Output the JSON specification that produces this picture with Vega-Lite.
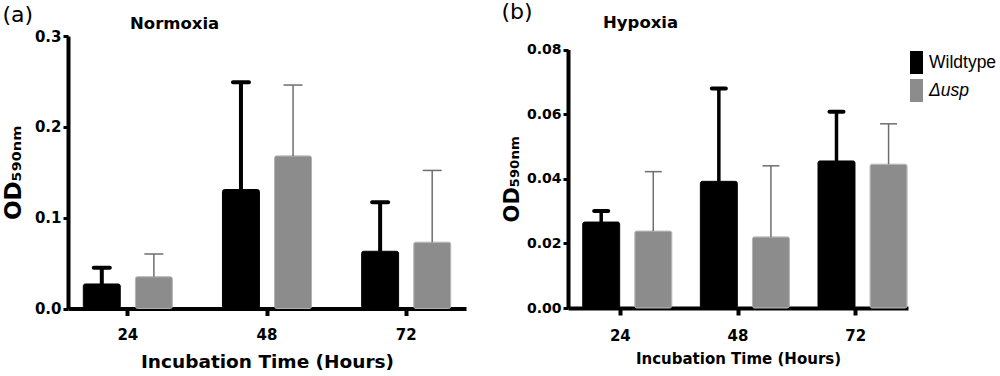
{
  "$schema": "https://vega.github.io/schema/vega-lite/v6.json",
  "padding": {"left": 2, "right": 0, "top": 0, "bottom": 0},
  "background": "#ffffff",
  "config": {
    "font": "DejaVu Sans",
    "view": {"stroke": null},
    "axis": {"domainColor": "#000", "tickColor": "#000", "labelColor": "#000", "titleColor": "#000", "grid": false, "labelFont": "DejaVu Sans", "titleFont": "DejaVu Sans", "labelFontWeight": "bold", "titleFontWeight": "bold"},
    "title": {"color": "#000"}
  },
  "columns": 2,
  "align": "none",
  "spacing": 35,
  "resolve": {"scale": {"color": "independent"}},
  "concat": [
    {
      "title": {"text": "(a)", "anchor": "start", "frame": "bounds", "fontSize": 22, "fontWeight": "normal", "font": "DejaVu Sans", "offset": -11},
      "resolve": {"scale": {"color": "independent"}},
      "vconcat": [
        {
          "title": {"text": "Normoxia", "anchor": "start", "frame": "group", "dx": 62, "fontSize": 16.5, "fontWeight": "bold", "font": "DejaVu Sans", "offset": -3},
          "width": 398,
          "height": 272.5,
          "data": {"values": [
            {"hours": "24", "strain": "Wildtype", "od": 0.027, "upper": 0.045},
            {"hours": "24", "strain": "Δusp", "od": 0.035, "upper": 0.060},
            {"hours": "48", "strain": "Wildtype", "od": 0.131, "upper": 0.249},
            {"hours": "48", "strain": "Δusp", "od": 0.168, "upper": 0.246},
            {"hours": "72", "strain": "Wildtype", "od": 0.063, "upper": 0.117},
            {"hours": "72", "strain": "Δusp", "od": 0.073, "upper": 0.152}
          ]},
          "encoding": {
            "x": {"field": "hours", "type": "nominal", "sort": ["24", "48", "72"], "scale": {"paddingInner": 0.36, "paddingOuter": 0.11},
              "axis": {"title": "Incubation Time (Hours)", "labelAngle": 0, "labelFontSize": 15, "titleFontSize": 18.5, "tickSize": 7, "tickWidth": 4, "domainWidth": 4, "labelPadding": 12, "titlePadding": 10}},
            "xOffset": {"field": "strain", "type": "nominal", "scale": {"domain": ["Wildtype", "Δusp"], "paddingInner": 0.29, "paddingOuter": 0}}
          },
          "layer": [
            {
              "mark": {"type": "bar", "cornerRadius": 2, "strokeWidth": 1},
              "encoding": {
                "y": {"field": "od", "type": "quantitative", "scale": {"domain": [0, 0.3], "nice": false},
                  "axis": {"title": "OD₅₉₀ₙₘ", "values": [0, 0.1, 0.2, 0.3], "format": ".1f", "labelFontSize": 15, "titleFontSize": 23, "tickSize": 5, "tickWidth": 3, "domainWidth": 4, "labelPadding": 2, "titlePadding": 9}},
                "color": {"field": "strain", "type": "nominal", "scale": {"domain": ["Wildtype", "Δusp"], "range": ["#000000", "#8c8c8c"]}, "legend": null},
                "stroke": {"field": "strain", "type": "nominal", "scale": {"domain": ["Wildtype", "Δusp"], "range": ["#000000", "#b0b0b0"]}, "legend": null}
              }
            },
            {
              "transform": [{"filter": "datum.strain === 'Wildtype'"}],
              "mark": {"type": "rule", "strokeWidth": 4, "color": "#000000"},
              "encoding": {"y": {"field": "od", "type": "quantitative"}, "y2": {"field": "upper"}}
            },
            {
              "transform": [{"filter": "datum.strain === 'Wildtype'"}],
              "mark": {"type": "tick", "thickness": 4, "size": 20, "color": "#000000", "cornerRadius": 2, "opacity": 1},
              "encoding": {"y": {"field": "upper", "type": "quantitative"}}
            },
            {
              "transform": [{"filter": "datum.strain === 'Δusp'"}],
              "mark": {"type": "rule", "strokeWidth": 1.5, "color": "#6e6e6e"},
              "encoding": {"y": {"field": "od", "type": "quantitative"}, "y2": {"field": "upper"}}
            },
            {
              "transform": [{"filter": "datum.strain === 'Δusp'"}],
              "mark": {"type": "tick", "thickness": 1.5, "size": 19, "color": "#6e6e6e", "opacity": 1},
              "encoding": {"y": {"field": "upper", "type": "quantitative"}}
            }
          ]
        }
      ]
    },
    {
      "title": {"text": "(b)", "anchor": "start", "frame": "bounds", "fontSize": 22, "fontWeight": "normal", "font": "DejaVu Sans", "offset": -9},
      "resolve": {"scale": {"color": "independent"}},
      "vconcat": [
        {
          "title": {"text": "Hypoxia", "anchor": "start", "frame": "group", "dx": 35, "fontSize": 16.5, "fontWeight": "bold", "font": "DejaVu Sans", "offset": 5},
          "width": 340,
          "height": 272,
          "data": {"values": [
            {"hours": "24", "strain": "Wildtype", "od": 0.0266, "upper": 0.0300},
            {"hours": "24", "strain": "Δusp", "od": 0.0238, "upper": 0.0422},
            {"hours": "48", "strain": "Wildtype", "od": 0.0392, "upper": 0.0679},
            {"hours": "48", "strain": "Δusp", "od": 0.0220, "upper": 0.0440},
            {"hours": "72", "strain": "Wildtype", "od": 0.0455, "upper": 0.0607},
            {"hours": "72", "strain": "Δusp", "od": 0.0445, "upper": 0.0570}
          ]},
          "encoding": {
            "x": {"field": "hours", "type": "nominal", "sort": ["24", "48", "72"], "scale": {"paddingInner": 0.36, "paddingOuter": 0.125},
              "axis": {"title": "Incubation Time (Hours)", "labelAngle": 0, "labelFontSize": 15, "titleFontSize": 15, "tickSize": 7, "tickWidth": 4, "domainWidth": 4, "labelPadding": 13, "titlePadding": 8}},
            "xOffset": {"field": "strain", "type": "nominal", "scale": {"domain": ["Wildtype", "Δusp"], "paddingInner": 0.29, "paddingOuter": 0}}
          },
          "layer": [
            {
              "mark": {"type": "bar", "cornerRadius": 2, "strokeWidth": 1},
              "encoding": {
                "y": {"field": "od", "type": "quantitative", "scale": {"domain": [0, 0.08], "nice": false, "range": [272, 13.5]},
                  "axis": {"title": "OD₅₉₀ₙₘ", "values": [0, 0.02, 0.04, 0.06, 0.08], "format": ".2f", "labelFontSize": 14, "titleFontSize": 21, "tickSize": 5, "tickWidth": 3, "domainWidth": 4, "labelPadding": 2, "titlePadding": 4}},
                "color": {"field": "strain", "type": "nominal", "scale": {"domain": ["Wildtype", "Δusp"], "range": ["#000000", "#8c8c8c"]},
                  "legend": {"title": null, "orient": "none", "legendX": 337, "legendY": 15, "padding": 0, "symbolType": "M-0.565,-1H0.565V1H-0.565Z", "symbolSize": 529, "symbolStrokeWidth": 0, "labelFont": "Liberation Sans", "labelFontSize": 17.5, "labelOffset": 1, "rowPadding": 5, "labelColor": "#000",
                    "encoding": {"labels": {"fontStyle": {"condition": {"test": "datum.value === 'Δusp'", "value": "italic"}, "value": "normal"}}}}},
                "stroke": {"field": "strain", "type": "nominal", "scale": {"domain": ["Wildtype", "Δusp"], "range": ["#000000", "#b0b0b0"]}, "legend": null}
              }
            },
            {
              "transform": [{"filter": "datum.strain === 'Wildtype'"}],
              "mark": {"type": "rule", "strokeWidth": 3.5, "color": "#000000"},
              "encoding": {"y": {"field": "od", "type": "quantitative"}, "y2": {"field": "upper"}}
            },
            {
              "transform": [{"filter": "datum.strain === 'Wildtype'"}],
              "mark": {"type": "tick", "thickness": 4, "size": 18, "color": "#000000", "cornerRadius": 2, "opacity": 1},
              "encoding": {"y": {"field": "upper", "type": "quantitative"}}
            },
            {
              "transform": [{"filter": "datum.strain === 'Δusp'"}],
              "mark": {"type": "rule", "strokeWidth": 1.5, "color": "#6e6e6e"},
              "encoding": {"y": {"field": "od", "type": "quantitative"}, "y2": {"field": "upper"}}
            },
            {
              "transform": [{"filter": "datum.strain === 'Δusp'"}],
              "mark": {"type": "tick", "thickness": 1.5, "size": 17, "color": "#6e6e6e", "opacity": 1},
              "encoding": {"y": {"field": "upper", "type": "quantitative"}}
            }
          ]
        }
      ]
    }
  ]
}
